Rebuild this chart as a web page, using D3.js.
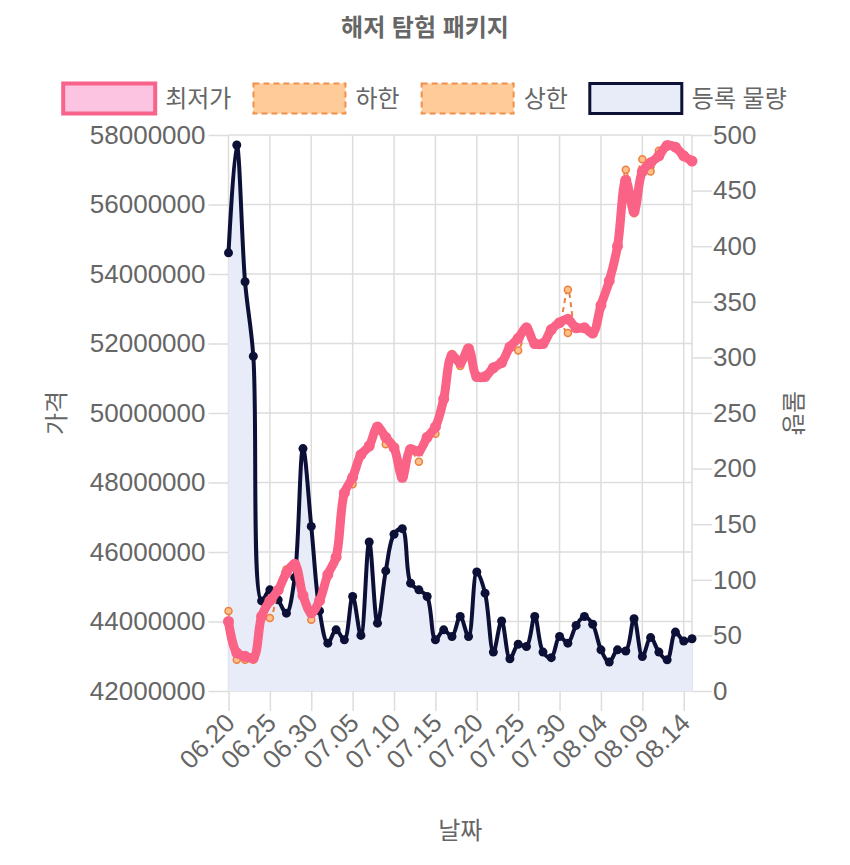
<!DOCTYPE html>
<meta charset="utf-8">

<style>
body {
  margin: 0;
  background: #fff;
}
text {
  font-family: "Liberation Sans", Arial, "Noto Sans CJK KR", sans-serif;
  fill: #666;
}
.chart-title {
  font-size: 24px;
  font-weight: bold;
  text-anchor: middle;
}
.legend-label {
  font-size: 24px;
}
.axis text {
  font-size: 26px;
  fill: #666;
}
.axis line {
  stroke: #ddd;
  stroke-width: 1.5;
}
.axis .domain {
  display: none;
}
.axis-title {
  font-size: 24px;
  text-anchor: middle;
}
.grid line {
  stroke: #ddd;
  stroke-width: 1.5;
}
</style>

<body>
<script src="https://d3js.org/d3.v7.min.js"></script>
<script>
// daily labels, 06.20 -> 08.15
var dates = [
  "06.20", "06.21", "06.22", "06.23", "06.24", "06.25", "06.26", "06.27", "06.28", "06.29", "06.30",
  "07.01", "07.02", "07.03", "07.04", "07.05", "07.06", "07.07", "07.08", "07.09", "07.10",
  "07.11", "07.12", "07.13", "07.14", "07.15", "07.16", "07.17", "07.18", "07.19", "07.20",
  "07.21", "07.22", "07.23", "07.24", "07.25", "07.26", "07.27", "07.28", "07.29", "07.30", "07.31",
  "08.01", "08.02", "08.03", "08.04", "08.05", "08.06", "08.07", "08.08", "08.09", "08.10",
  "08.11", "08.12", "08.13", "08.14", "08.15"
];

// 최저가
var lowest = [
  44000000, 43100000, 43000000, 42950000, 44150000, 44600000, 44900000, 45400000, 45650000, 44750000,
  44250000, 44600000, 45350000, 45850000, 47700000, 48150000, 48800000, 49050000, 49600000, 49300000,
  49000000, 48150000, 48950000, 48900000, 49300000, 49600000, 50400000, 51650000, 51450000, 51850000,
  51050000, 51050000, 51300000, 51450000, 51900000, 52150000, 52450000, 52000000, 52000000, 52400000,
  52600000, 52700000, 52450000, 52450000, 52300000, 53100000, 53800000, 54800000, 56700000, 55800000,
  56950000, 57200000, 57400000, 57700000, 57650000, 57400000, 57250000
];

// 하한
var lowerBound = [
  44000000, 42900000, 42900000, 42900000, 44150000, 44100000, 44900000, 45400000, 45650000, 44750000,
  44050000, 44600000, 45350000, 45850000, 47700000, 47950000, 48800000, 49050000, 49600000, 49100000,
  49000000, 48150000, 48950000, 48600000, 49300000, 49400000, 50400000, 51650000, 51350000, 51850000,
  51050000, 51050000, 51300000, 51450000, 51900000, 51800000, 52450000, 52000000, 52000000, 52400000,
  52600000, 52300000, 52450000, 52450000, 52300000, 53100000, 53800000, 54800000, 56700000, 55750000,
  56950000, 56950000, 57400000, 57700000, 57650000, 57400000, 57250000
];

// 상한
var upperBound = [
  44300000, 43100000, 43000000, 42950000, 44150000, 44600000, 44900000, 45500000, 45650000, 44750000,
  44250000, 44600000, 45350000, 45850000, 47700000, 48150000, 48800000, 49050000, 49600000, 49300000,
  49000000, 48150000, 48950000, 48900000, 49300000, 49600000, 50400000, 51700000, 51450000, 51850000,
  51050000, 51050000, 51300000, 51450000, 51900000, 52150000, 52450000, 52000000, 52000000, 52400000,
  52600000, 53550000, 52450000, 52450000, 52300000, 53100000, 53800000, 54800000, 57000000, 55800000,
  57300000, 57200000, 57550000, 57700000, 57650000, 57400000, 57250000
];

// 등록 물량
var volume = [
  394, 491, 368, 301, 81, 91, 82, 70, 102, 218,
  148, 72, 43, 55, 46, 85, 50, 134, 61, 108,
  141, 146, 97, 91, 85, 46, 55, 49, 67, 49,
  107, 88, 35, 63, 29, 42, 40, 67, 35, 30,
  49, 43, 59, 67, 60, 37, 26, 37, 36, 65,
  31, 48, 35, 28, 53, 45, 47
];

var priceTicks = [42000000, 44000000, 46000000, 48000000, 50000000, 52000000, 54000000, 56000000, 58000000];
var volumeTicks = [0, 50, 100, 150, 200, 250, 300, 350, 400, 450, 500];
var dateTicks = dates.filter(function(d, i){ return i % 5 === 0; });

var legendItems = [
  {label: "최저가", fill: "#fdc4e2", stroke: "#f7638a", width: 4, dash: null},
  {label: "하한", fill: "#ffcb98", stroke: "#f0904a", width: 2, dash: "6,4"},
  {label: "상한", fill: "#ffcb98", stroke: "#f0904a", width: 2, dash: "6,4"},
  {label: "등록 물량", fill: "#e8ecf8", stroke: "#0d1136", width: 3, dash: null}
];

var w = 850, h = 865;
var plotLeft = 228.5, plotRight = 692, plotTop = 135, plotBottom = 691;

var svg = d3.select("body").append("svg")
            .attr("width", w)
            .attr("height", h);

var x = d3.scalePoint().domain(dates).range([plotLeft, plotRight]);
var yPrice = d3.scaleLinear().domain([42000000, 58000000]).range([plotBottom, plotTop]);
var yVol = d3.scaleLinear().domain([0, 500]).range([plotBottom, plotTop]);

// title
svg.append("text")
   .attr("class", "chart-title")
   .attr("x", w / 2)
   .attr("y", 36)
   .text("해저 탐험 패키지");

// legend
var legend = svg.append("g").attr("class", "legend");
var boxW = 92, boxH = 30, boxGap = 10, itemGap = 22;
var items = legend.selectAll("g")
    .data(legendItems)
    .enter()
    .append("g");
items.append("rect")
    .attr("width", boxW)
    .attr("height", boxH)
    .attr("fill", function(d){ return d.fill; })
    .attr("stroke", function(d){ return d.stroke; })
    .attr("stroke-width", function(d){ return d.width; })
    .attr("stroke-dasharray", function(d){ return d.dash; });
items.append("text")
    .attr("class", "legend-label")
    .attr("x", boxW + boxGap)
    .attr("y", boxH / 2)
    .attr("dy", ".36em")
    .text(function(d){ return d.label; });
var offsets = [], total = 0;
items.each(function(){
  var tw = d3.select(this).select("text").node().getComputedTextLength();
  offsets.push(total);
  total += boxW + boxGap + tw + itemGap;
});
total -= itemGap;
var lx0 = (w - total) / 2;
items.attr("transform", function(d, i){ return "translate(" + (lx0 + offsets[i]) + ",83.5)"; });

// grid
var grid = svg.append("g").attr("class", "grid");
grid.selectAll(".hgrid")
    .data(priceTicks)
    .enter()
    .append("line")
    .attr("x1", plotLeft).attr("x2", plotRight)
    .attr("y1", function(d){ return yPrice(d); })
    .attr("y2", function(d){ return yPrice(d); });
grid.selectAll(".vgrid")
    .data(dateTicks)
    .enter()
    .append("line")
    .attr("x1", function(d){ return x(d); })
    .attr("x2", function(d){ return x(d); })
    .attr("y1", plotTop).attr("y2", plotBottom);
grid.append("line")
    .attr("x1", plotRight).attr("x2", plotRight)
    .attr("y1", plotTop).attr("y2", plotBottom);

// axes
svg.append("g")
   .attr("class", "axis")
   .attr("transform", "translate(" + plotLeft + ",0)")
   .call(d3.axisLeft(yPrice).tickValues(priceTicks).tickFormat(d3.format("d")).tickSize(20).tickPadding(3));

svg.append("g")
   .attr("class", "axis")
   .attr("transform", "translate(" + plotRight + ",0)")
   .call(d3.axisRight(yVol).tickValues(volumeTicks).tickSize(20).tickPadding(1));

var xAxis = svg.append("g")
   .attr("class", "axis")
   .attr("transform", "translate(0," + plotBottom + ")")
   .call(d3.axisBottom(x).tickValues(dateTicks).tickSize(20));
xAxis.selectAll("text")
   .attr("x", 0)
   .attr("y", 0)
   .attr("dy", ".35em")
   .attr("transform", "translate(1,27) rotate(-45)")
   .style("text-anchor", "end");

// axis titles
svg.append("text")
   .attr("class", "axis-title")
   .attr("transform", "translate(57," + (plotTop + plotBottom) / 2 + ") rotate(-90)")
   .attr("dy", ".35em")
   .text("가격");
svg.append("text")
   .attr("class", "axis-title")
   .attr("transform", "translate(793," + (plotTop + plotBottom) / 2 + ") rotate(90)")
   .attr("dy", ".35em")
   .text("물량");
svg.append("text")
   .attr("class", "axis-title")
   .attr("x", (plotLeft + plotRight) / 2)
   .attr("y", 839)
   .text("날짜");

var curve = d3.curveCatmullRom.alpha(0.5);

// 등록 물량
var volArea = d3.area()
    .x(function(d, i){ return x(dates[i]); })
    .y0(plotBottom)
    .y1(function(d){ return yVol(d); })
    .curve(curve);
var volLine = d3.line()
    .x(function(d, i){ return x(dates[i]); })
    .y(function(d){ return yVol(d); })
    .curve(curve);

svg.append("path")
   .datum(volume)
   .attr("d", volArea)
   .attr("fill", "#e8ecf8");
svg.append("path")
   .datum(volume)
   .attr("d", volLine)
   .attr("fill", "none")
   .attr("stroke", "#0c1036")
   .attr("stroke-width", 4);
svg.append("g")
   .selectAll("circle")
   .data(volume)
   .enter()
   .append("circle")
   .attr("cx", function(d, i){ return x(dates[i]); })
   .attr("cy", function(d){ return yVol(d); })
   .attr("r", 4.5)
   .attr("fill", "#0c1036");

var priceLine = d3.line()
    .x(function(d, i){ return x(dates[i]); })
    .y(function(d){ return yPrice(d); })
    .curve(curve);

// 상한, 하한
[upperBound, lowerBound].forEach(function(series){
  svg.append("path")
     .datum(series)
     .attr("d", priceLine)
     .attr("fill", "none")
     .attr("stroke", "#ec8040")
     .attr("stroke-width", 2)
     .attr("stroke-dasharray", "5,4");
  svg.append("g")
     .selectAll("circle")
     .data(series)
     .enter()
     .append("circle")
     .attr("cx", function(d, i){ return x(dates[i]); })
     .attr("cy", function(d){ return yPrice(d); })
     .attr("r", 3.5)
     .attr("fill", "#ffc08a")
     .attr("stroke", "#ec8040")
     .attr("stroke-width", 1.5);
});

// 최저가
svg.append("path")
   .datum(lowest)
   .attr("d", priceLine)
   .attr("fill", "none")
   .attr("stroke", "#fa6286")
   .attr("stroke-width", 9)
   .attr("stroke-linejoin", "round");
svg.append("g")
   .selectAll("circle")
   .data(lowest)
   .enter()
   .append("circle")
   .attr("cx", function(d, i){ return x(dates[i]); })
   .attr("cy", function(d){ return yPrice(d); })
   .attr("r", 5.5)
   .attr("fill", "#fa6286");
</script>
</body>
